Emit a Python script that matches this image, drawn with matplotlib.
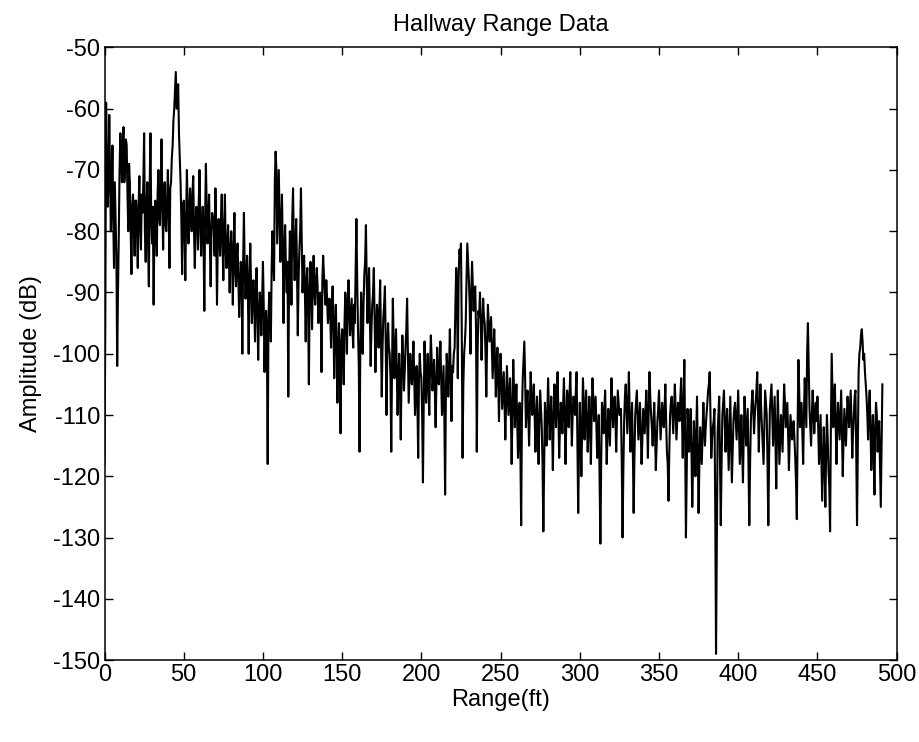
"""
Hallway range data - amplitude vs range
"""

import numpy as np
import matplotlib
matplotlib.use("Agg")
import matplotlib.pyplot as plt

# Amplitude (dB), one sample per foot from 0 ft
amp_000 = [-118, -59, -76, -61, -80, -66, -86, -78, -102, -81,
           -64, -72, -63, -70, -66, -80, -72, -87, -74, -84,
           -75, -86, -71, -83, -77, -64, -85, -72, -89, -64,
           -82, -92, -75, -84, -70, -79, -65, -83, -72, -80,
           -70, -86, -72, -66, -60, -54, -58, -64, -72, -87]
amp_050 = [-75, -88, -70, -82, -73, -80, -71, -86, -76, -83,
           -70, -84, -76, -93, -69, -82, -74, -89, -77, -80,
           -73, -92, -78, -84, -74, -88, -74, -86, -79, -90,
           -80, -92, -77, -89, -82, -94, -85, -100, -77, -91,
           -84, -100, -82, -95, -88, -98, -86, -101, -90, -97]
amp_100 = [-85, -103, -93, -118, -90, -98, -80, -88, -67, -82,
           -70, -85, -74, -95, -79, -90, -107, -80, -92, -73,
           -88, -78, -97, -83, -73, -90, -84, -98, -86, -105,
           -85, -96, -84, -92, -86, -95, -90, -103, -84, -90,
           -88, -95, -91, -99, -89, -104, -92, -108, -95, -113]
amp_150 = [-96, -105, -90, -100, -88, -97, -91, -99, -95, -78,
           -96, -116, -90, -100, -87, -79, -95, -86, -102, -92,
           -86, -103, -92, -99, -88, -107, -94, -89, -110, -95,
           -100, -116, -91, -104, -96, -110, -100, -114, -97, -106,
           -99, -91, -108, -100, -105, -98, -110, -102, -117, -100]
amp_200 = [-104, -121, -98, -108, -100, -110, -97, -106, -101, -112,
           -99, -105, -98, -110, -102, -123, -100, -107, -96, -111,
           -103, -99, -86, -104, -83, -82, -117, -100, -95, -82,
           -88, -100, -85, -93, -89, -116, -93, -90, -101, -91,
           -95, -107, -92, -98, -94, -104, -96, -107, -99, -111]
amp_250 = [-100, -109, -103, -114, -102, -110, -104, -118, -101, -112,
           -105, -117, -108, -128, -104, -98, -112, -106, -115, -103,
           -110, -105, -116, -107, -118, -106, -112, -129, -108, -115,
           -104, -114, -107, -119, -105, -112, -103, -117, -108, -113,
           -104, -118, -106, -112, -103, -115, -107, -110, -103, -126]
amp_300 = [-108, -120, -104, -114, -106, -116, -107, -118, -104, -111,
           -107, -117, -110, -131, -108, -113, -106, -118, -109, -115,
           -104, -112, -107, -116, -106, -110, -109, -130, -111, -105,
           -113, -103, -116, -108, -126, -110, -106, -114, -108, -118,
           -109, -113, -106, -117, -103, -110, -115, -108, -119, -111]
amp_350 = [-106, -114, -108, -112, -105, -116, -124, -110, -107, -113,
           -105, -114, -108, -111, -104, -117, -101, -130, -109, -116,
           -109, -125, -111, -120, -107, -126, -112, -118, -108, -115,
           -110, -106, -103, -117, -112, -109, -149, -113, -107, -128,
           -110, -106, -116, -109, -119, -107, -121, -111, -108, -114]
amp_400 = [-106, -118, -110, -121, -107, -115, -109, -128, -111, -106,
           -113, -108, -103, -116, -105, -112, -118, -106, -110, -128,
           -109, -105, -115, -107, -122, -106, -118, -110, -116, -105,
           -112, -108, -119, -110, -114, -111, -117, -127, -101, -112,
           -108, -118, -104, -112, -95, -109, -115, -106, -113, -108]
amp_450 = [-107, -118, -110, -124, -112, -125, -110, -119, -129, -100,
           -112, -105, -118, -108, -114, -106, -120, -109, -115, -107,
           -112, -106, -117, -110, -106, -128, -103, -99, -96, -101,
           -103, -107, -114, -106, -119, -110, -123, -108, -116, -111,
           -125, -105]

# Samples in between, at 0.5 ft, 1.5 ft, ...
half_000 = [-95, -68, -72, -70, -74, -78, -72, -84, -90, -70,
            -68, -66, -72, -65, -74, -69, -80, -76, -78, -75,
            -80, -76, -79, -74, -72, -80, -76, -82, -73, -78,
            -76, -80, -79, -74, -78, -72, -76, -74, -79, -75,
            -77, -73, -68, -62, -57, -60, -56, -68, -78, -76]
half_050 = [-80, -78, -76, -78, -77, -74, -80, -79, -78, -75,
            -79, -80, -81, -78, -76, -79, -82, -80, -78, -84,
            -80, -82, -81, -78, -82, -80, -83, -82, -84, -83,
            -85, -83, -86, -84, -88, -89, -87, -85, -86, -88,
            -90, -88, -89, -91, -92, -90, -93, -94, -92, -91]
half_100 = [-92, -95, -99, -94, -93, -86, -84, -72, -70, -76,
            -78, -80, -82, -84, -86, -85, -88, -84, -78, -82,
            -83, -86, -88, -80, -82, -86, -90, -88, -92, -90,
            -89, -88, -90, -88, -89, -91, -93, -88, -87, -92,
            -91, -93, -94, -92, -95, -96, -98, -100, -101, -98]
half_150 = [-99, -95, -94, -92, -93, -94, -96, -92, -86, -88,
            -102, -98, -95, -92, -85, -88, -90, -94, -96, -90,
            -95, -96, -94, -93, -98, -99, -92, -98, -100, -99,
            -104, -102, -98, -100, -103, -104, -106, -103, -101, -103,
            -96, -100, -104, -103, -102, -104, -106, -108, -104, -103]
half_200 = [-110, -108, -104, -103, -106, -102, -101, -104, -106, -105,
            -103, -102, -104, -106, -110, -106, -103, -102, -104, -102,
            -100, -92, -90, -88, -84, -96, -105, -98, -88, -85,
            -92, -90, -89, -90, -96, -100, -94, -95, -96, -94,
            -100, -98, -95, -96, -99, -100, -101, -103, -104, -104]
half_250 = [-104, -106, -108, -108, -106, -107, -110, -109, -106, -108,
            -111, -112, -116, -110, -101, -104, -108, -110, -109, -107,
            -108, -110, -111, -112, -111, -109, -118, -118, -111, -110,
            -109, -110, -112, -111, -108, -107, -110, -112, -110, -108,
            -110, -111, -108, -107, -109, -110, -108, -106, -114, -116]
half_300 = [-113, -112, -108, -110, -111, -112, -112, -110, -107, -109,
            -112, -114, -120, -118, -110, -109, -112, -113, -112, -110,
            -108, -109, -111, -110, -108, -110, -118, -119, -107, -109,
            -108, -110, -112, -116, -117, -108, -110, -111, -113, -114,
            -111, -109, -111, -109, -107, -112, -111, -113, -115, -109]
half_350 = [-110, -111, -110, -109, -111, -118, -116, -108, -110, -109,
            -109, -111, -110, -107, -110, -108, -114, -119, -112, -112,
            -116, -118, -115, -113, -116, -118, -115, -113, -112, -112,
            -108, -105, -110, -114, -111, -125, -130, -110, -117, -118,
            -108, -111, -112, -114, -113, -114, -116, -109, -111, -110]
half_400 = [-112, -114, -116, -113, -111, -112, -118, -118, -108, -109,
            -110, -106, -109, -110, -109, -115, -112, -108, -118, -117,
            -107, -110, -111, -114, -113, -112, -114, -113, -110, -108,
            -110, -113, -114, -112, -112, -114, -121, -112, -106, -110,
            -113, -110, -108, -100, -102, -112, -110, -109, -110, -111]
half_450 = [-112, -114, -117, -118, -118, -116, -114, -122, -112, -106,
            -108, -111, -112, -111, -110, -113, -114, -112, -111, -109,
            -109, -111, -113, -107, -116, -115, -100, -97, -98, -100,
            -105, -110, -109, -112, -114, -116, -112, -110, -113, -118,
            -115]

on_ft = (amp_000 + amp_050 + amp_100 + amp_150 + amp_200 +
         amp_250 + amp_300 + amp_350 + amp_400 + amp_450)
half_ft = (half_000 + half_050 + half_100 + half_150 + half_200 +
           half_250 + half_300 + half_350 + half_400 + half_450)

# interleave the two sample sets, 0.5 ft apart
amplitude = np.empty(len(on_ft) + len(half_ft))
amplitude[0::2] = on_ft
amplitude[1::2] = half_ft
range_ft = np.arange(len(amplitude)) * 0.5

x_ticks = [0, 50, 100, 150, 200, 250, 300, 350, 400, 450, 500]
y_ticks = [-150, -140, -130, -120, -110, -100, -90, -80, -70, -60, -50]

plt.rcParams['font.family'] = ['Liberation Sans', 'DejaVu Sans']
plt.rcParams['font.size'] = 17
plt.rcParams['axes.unicode_minus'] = False

fig = plt.figure(figsize=(9.2, 7.42), dpi=100)
ax = fig.add_axes([0.1136, 0.1105, 0.861, 0.8255])

ax.plot(range_ft, amplitude, color='black', linewidth=1.5)

ax.set_xlim(0, 500)
ax.set_ylim(-150, -50)
ax.set_xticks(x_ticks)
ax.set_yticks(y_ticks)
ax.tick_params(direction='in', length=6, width=1, top=True, right=True, pad=3)
for s in ax.spines.values():
    s.set_linewidth(1.1)

ax.set_title('Hallway Range Data', fontsize=17, pad=12)
ax.set_xlabel('Range(ft)', labelpad=2)
ax.set_ylabel('Amplitude (dB)', labelpad=8)

fig.savefig('out.png', dpi=100)
